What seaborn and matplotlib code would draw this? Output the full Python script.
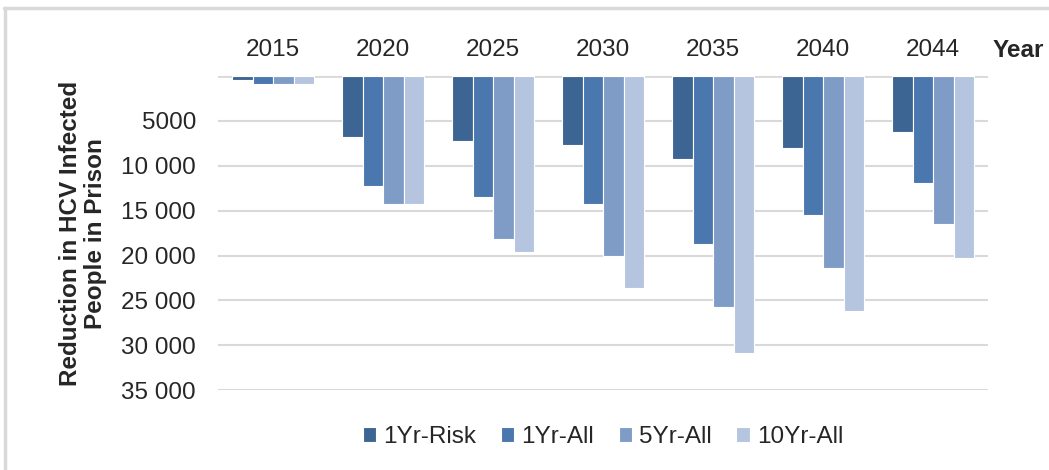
import numpy as np
import matplotlib
matplotlib.use("Agg")
import matplotlib.pyplot as plt
from matplotlib.lines import Line2D
import pandas as pd
import seaborn as sns

years = ["2015", "2020", "2025", "2030", "2035", "2040", "2044"]
scenarios = ["1Yr-Risk", "1Yr-All", "5Yr-All", "10Yr-All"]
risk_1yr = [450, 6770, 7200, 7650, 9200, 8030, 6280]
all_1yr = [850, 12200, 13500, 14200, 18700, 15500, 11900]
all_5yr = [850, 14200, 18100, 20100, 25700, 21400, 16450]
all_10yr = [850, 14200, 19650, 23650, 30900, 26150, 20300]
ytick_vals = [5000, 10000, 15000, 20000, 25000, 30000, 35000]
ytick_labels = ["5000", "10 000", "15 000", "20 000", "25 000", "30 000", "35 000"]
colors = ["#3D6594", "#4A77AD", "#7F9CC7", "#B5C4DF"]

df = pd.DataFrame({"Year": years, "1Yr-Risk": risk_1yr, "1Yr-All": all_1yr,
                   "5Yr-All": all_5yr, "10Yr-All": all_10yr})
long = df.melt(id_vars="Year", var_name="Scenario", value_name="Reduction")

sns.set_style("white")
plt.rcParams["font.family"] = ["Liberation Sans", "DejaVu Sans"]

fig = plt.figure(figsize=(10.49, 4.70), dpi=100)
ax = fig.add_axes([0.208, 0.170, 0.734, 0.668])

sns.barplot(data=long, x="Year", y="Reduction", hue="Scenario", hue_order=scenarios,
            palette=colors, width=0.74, edgecolor="white", linewidth=0.8,
            saturation=1, ax=ax, legend=True)

ax.set_ylim(35000, 0)
ax.set_xlim(-0.5, len(years) - 0.5)
ax.set_yticks(ytick_vals)
ax.set_yticklabels(ytick_labels)
ax.yaxis.grid(True, color="#D9D9D9", linewidth=1.5)
ax.axhline(0, color="#D9D9D9", linewidth=2, zorder=0)
ax.set_axisbelow(True)
for s in ax.spines.values():
    s.set_visible(False)

ax.xaxis.tick_top()
ax.tick_params(axis="x", length=0, pad=11, labelsize=17.5)
ax.tick_params(axis="y", length=0, pad=16, labelsize=17.5)
ax.set_xlabel("")
ax.set_ylabel("Reduction in HCV Infected\nPeople in Prison", fontsize=17.5,
              fontweight="bold", labelpad=10, linespacing=1.15)
ax.text(1.039, 1.083, "Year", transform=ax.transAxes, fontsize=17.5,
        fontweight="bold", ha="center", va="center")

ax.legend(loc="upper center", bbox_to_anchor=(0.5, -0.045), ncol=4, frameon=False,
          fontsize=17.5, handlelength=0.55, handleheight=0.55, handletextpad=0.3,
          columnspacing=1.0)

fig.add_artist(Line2D([0.004, 1.0], [0.982, 0.982], color="#D9D9D9", linewidth=2.5))
fig.add_artist(Line2D([0.005, 0.005], [0.0, 0.982], color="#D9D9D9", linewidth=2.5))

fig.savefig("out.png", dpi=100)
